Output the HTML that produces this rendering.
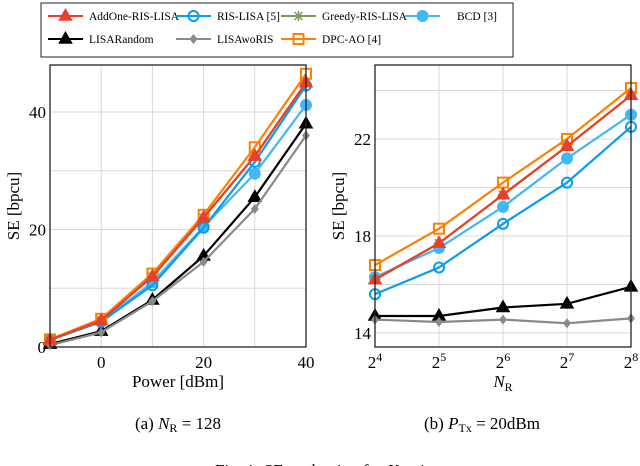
<!DOCTYPE html>
<html><head><meta charset="utf-8"><style>
body{margin:0;background:#fff;}
svg{display:block;font-family:"Liberation Serif",serif;}
</style></head><body>
<svg id="c" width="640" height="466" viewBox="0 0 640 466" xmlns="http://www.w3.org/2000/svg">
<g id="legend">
<rect x="41" y="3" width="472" height="54" fill="#fff" stroke="#222" stroke-width="1"/>
</g>
<g id="left"></g>
<g id="right"></g>
<text x="178" y="429" font-size="17" text-anchor="middle">(a)  <tspan font-style="italic">N</tspan><tspan font-size="12" dy="3">R</tspan><tspan dy="-3"> = 128</tspan></text>
<text x="482" y="429" font-size="17" text-anchor="middle">(b)  <tspan font-style="italic">P</tspan><tspan font-size="12" dy="3">Tx</tspan><tspan dy="-3"> = 20dBm</tspan></text>
<text x="320" y="476" font-size="17" text-anchor="middle">Fig. 1:  SE evaluation for <tspan font-style="italic">K</tspan> = 4</text>
</svg>
<script>
const seriesNames=["AddOne-RIS-LISA","RIS-LISA [5]","Greedy-RIS-LISA","BCD [3]","LISARandom","LISAwoRIS","DPC-AO [4]"];
const colors=["#e8402a","#0a9cf0","#7a9a5a","#40b8f5","#000000","#8a8a8a","#ff7f00"];
const markers=["tri","circ","star","dot","tri","diam","sq"];
const powerX=[-10,0,10,20,30,40];
const addOneL=[1.2,4.5,12,22,32.5,45];
const risL=[1.2,4.3,10.5,20.3,31.5,44.5];
const greedyL=[1.2,4.5,12,22,32.5,45];
const bcdL=[1.2,4.3,11,20.5,29.5,41.2];
const randL=[0.5,2.7,8,15.5,25.5,38];
const woL=[0.3,2.5,7.8,14.5,23.5,36];
const dpcL=[1.3,4.8,12.5,22.5,34,46.5];
const nrExp=[4,5,6,7,8];
const addOneR=[16.2,17.7,19.7,21.7,23.8];
const risR=[15.6,16.7,18.5,20.2,22.5];
const greedyR=[16.2,17.7,19.7,21.7,23.8];
const bcdR=[16.3,17.5,19.2,21.2,23.0];
const randR=[14.7,14.7,15.05,15.2,15.9];
const woR=[14.55,14.45,14.55,14.4,14.6];
const dpcR=[16.8,18.3,20.2,22.0,24.1];
const leftYTicks=[0,20,40];
const leftXTicks=[0,20,40];
const rightYTicks=[14,18,22];
const NS="http://www.w3.org/2000/svg";
function mk(p,t,a){const e=document.createElementNS(NS,t);for(const k in a)e.setAttribute(k,a[k]);p.appendChild(e);return e;}
function marker(g,type,x,y,c){let e;
 if(type==="tri")e=mk(g,"polygon",{points:`${x},${y-6.5} ${x-6},${y+4} ${x+6},${y+4}`,fill:c==="#000000"?"#000":c,stroke:c,"stroke-width":1.5});
 else if(type==="circ")e=mk(g,"circle",{cx:x,cy:y,r:5,fill:"none",stroke:c,"stroke-width":2});
 else if(type==="dot")e=mk(g,"circle",{cx:x,cy:y,r:6,fill:c});
 else if(type==="diam")e=mk(g,"polygon",{points:`${x},${y-5} ${x+4},${y} ${x},${y+5} ${x-4},${y}`,fill:c});
 else if(type==="sq")e=mk(g,"rect",{x:x-5,y:y-5,width:10,height:10,fill:"none",stroke:c,"stroke-width":2});
 else {e=mk(g,"path",{d:`M${x-5},${y}H${x+5}M${x},${y-5}V${y+5}M${x-4},${y-4}L${x+4},${y+4}M${x-4},${y+4}L${x+4},${y-4}`,stroke:c,"stroke-width":1.5});}
 
 
}
const lg=document.getElementById('legend');
const legPos=[[48,16,89],[176,16,217],[281,16,322],[405,16,457],[48,39,89],[176,39,217],[281,39,322]];
seriesNames.forEach((n,i)=>{const [x,y,tx]=legPos[i];
 const g=mk(lg,"g",{});
 
 
 mk(g,"line",{x1:x,y1:y,x2:x+35,y2:y,stroke:colors[i],"stroke-width":2});
 marker(g,markers[i],x+17.5,y,colors[i]);
 const t=mk(g,"text",{x:tx,y:y+4,"font-size":11.5});t.textContent=n;
});
function panel(id,x0,x1,y0,y1,xmin,xmax,ymin,ymax,xs,data,xGrid,yGrid,yTicks,xTicks){
 const g=document.getElementById(id);
 const X=v=>x0+(v-xmin)/(xmax-xmin)*(x1-x0), Y=v=>y1-(v-ymin)/(ymax-ymin)*(y1-y0);
 xGrid.forEach(v=>{const l=mk(g,"line",{x1:X(v),x2:X(v),y1:y0,y2:y1,stroke:"#d8d8d8","stroke-width":1});});
 yGrid.forEach(v=>{const l=mk(g,"line",{x1:x0,x2:x1,y1:Y(v),y2:Y(v),stroke:"#d8d8d8","stroke-width":1});});
 yTicks.forEach(v=>{const t=mk(g,"text",{x:x0-4,y:Y(v)+6,"font-size":17,"text-anchor":"end"});t.textContent=v;});
 xTicks.forEach(([v,s,sup])=>{const t=mk(g,"text",{x:X(v),y:368,"font-size":17,"text-anchor":"middle"});t.textContent=s;if(sup){const ts=mk(t,"tspan",{dy:-7,"font-size":12});ts.textContent=sup;}});
 const order=[4,5,3,1,2,6,0];
 order.forEach(i=>{const d=data[i];const s=mk(g,"g",{});
  
  
  const p=mk(s,"polyline",{points:d.map((v,k)=>X(xs[k])+","+Y(v)).join(" "),fill:"none",stroke:colors[i],"stroke-width":2.2});
  
  d.forEach((v,k)=>marker(s,markers[i],X(xs[k]),Y(v),colors[i]));
 });
 const b=mk(g,"rect",{x:x0,y:y0,width:x1-x0,height:y1-y0,fill:"none",stroke:"#222","stroke-width":1.3});
 
 const yl=mk(g,"text",{transform:`translate(${x0-31},${(y0+y1)/2}) rotate(-90)`,"font-size":17,"text-anchor":"middle"});yl.textContent="SE [bpcu]";
 
 return X;
}
panel('left',50,306,65,347,-10,40,0,48,powerX,[addOneL,risL,greedyL,bcdL,randL,woL,dpcL],[0,10,20,30],[10,20,30,40],leftYTicks,leftXTicks.map(v=>[v,String(v)]));
panel('right',375,631,65,347,4,8,13.42,25.05,nrExp,[addOneR,risR,greedyR,bcdR,randR,woR,dpcR],[5,6,7],[14,16,18,20,22,24],rightYTicks,nrExp.map(v=>[v,"2",String(v)]));
const c=document.getElementById('c');
const xl=mk(c,"text",{x:178,y:387,"font-size":17,"text-anchor":"middle"});xl.textContent="Power [dBm]";


const xr=mk(c,"text",{x:503,y:387,"font-size":17,"text-anchor":"middle","font-style":"italic"});xr.textContent="N";


const sub=mk(xr,"tspan",{dy:4,"font-size":12,"font-style":"normal"});sub.textContent="R";
</script>
</body></html>
